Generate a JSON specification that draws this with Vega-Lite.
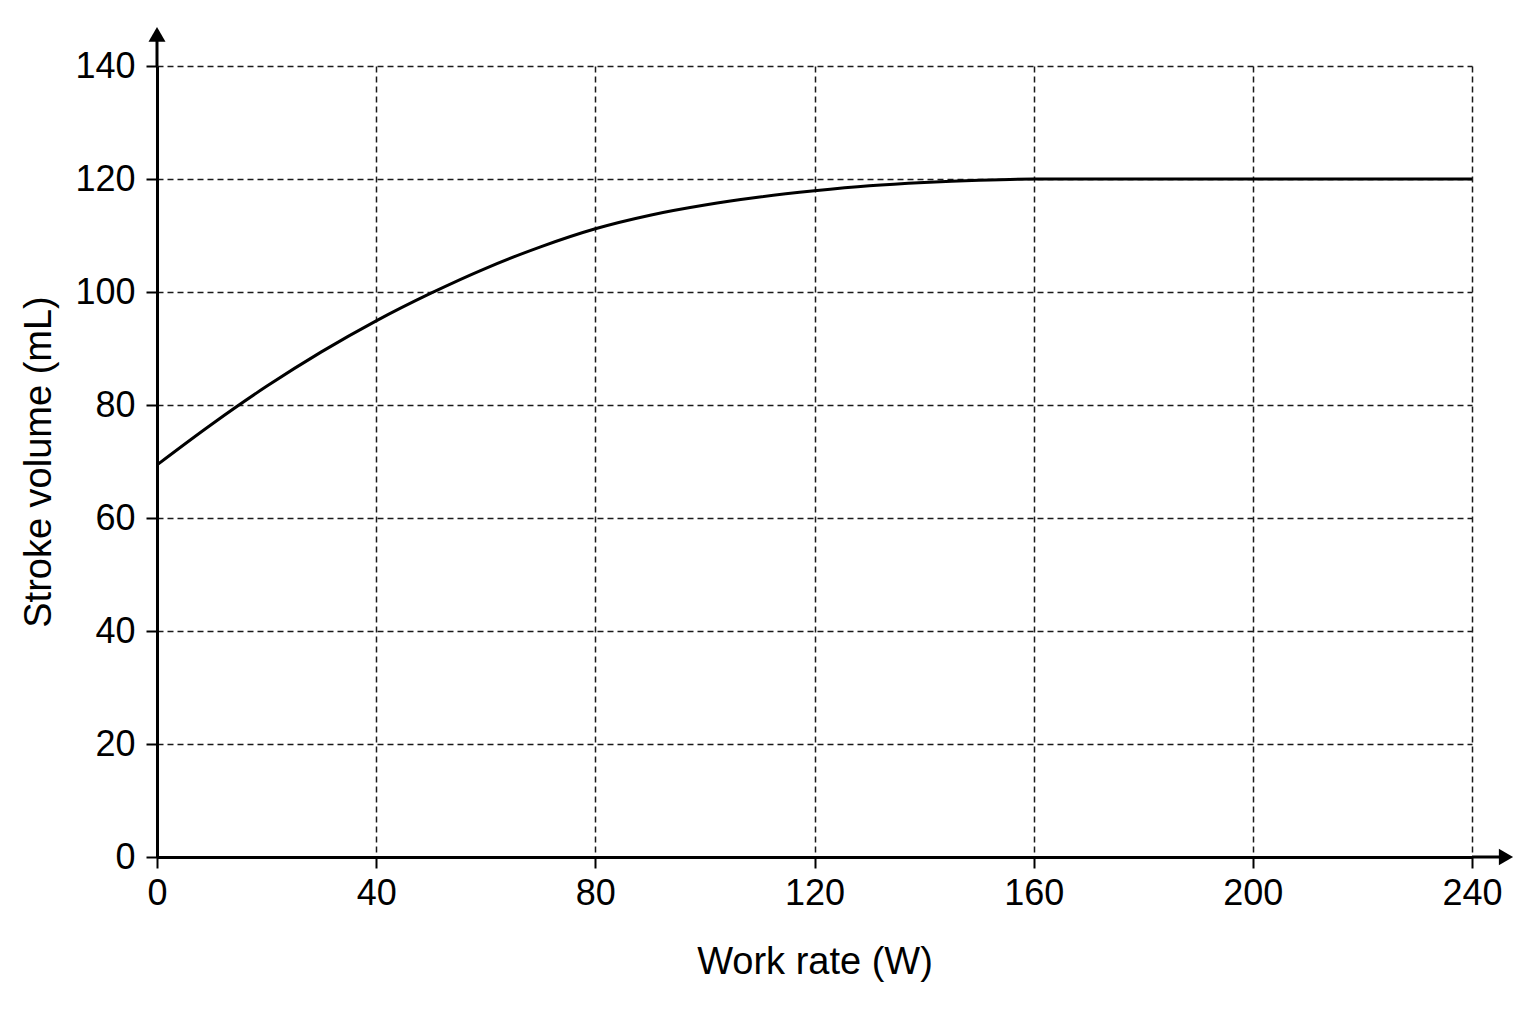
{
  "$schema": "https://vega.github.io/schema/vega-lite/v6.json",
  "autosize": {"type": "none"},
  "padding": {"left": 157, "top": 66, "right": 64, "bottom": 167},
  "width": 1315,
  "height": 791,
  "background": "white",
  "config": {
    "view": {"stroke": null},
    "axis": {
      "domainColor": "black",
      "domainWidth": 3,
      "tickColor": "black",
      "tickWidth": 2,
      "tickSize": 11,
      "labelFont": "Liberation Sans",
      "labelFontSize": 36,
      "labelColor": "black",
      "titleFont": "Liberation Sans",
      "titleFontSize": 38,
      "titleFontWeight": "normal",
      "titleColor": "black",
      "gridColor": "#1a1a1a",
      "gridDash": [6, 4],
      "gridWidth": 1.5
    }
  },
  "layer": [
    {
      "data": {
        "values": [
          {"work": 0, "sv": 69.4},
          {"work": 10, "sv": 76.6},
          {"work": 20, "sv": 83.3},
          {"work": 30, "sv": 89.4},
          {"work": 40, "sv": 94.9},
          {"work": 50, "sv": 99.8},
          {"work": 60, "sv": 104.2},
          {"work": 70, "sv": 108.0},
          {"work": 80, "sv": 111.2},
          {"work": 90, "sv": 113.6},
          {"work": 100, "sv": 115.4},
          {"work": 110, "sv": 116.8},
          {"work": 120, "sv": 117.9},
          {"work": 130, "sv": 118.8},
          {"work": 140, "sv": 119.4},
          {"work": 150, "sv": 119.8},
          {"work": 160, "sv": 120},
          {"work": 240, "sv": 120}
        ]
      },
      "mark": {"type": "line", "color": "black", "strokeWidth": 3, "interpolate": "monotone"},
      "encoding": {
        "x": {
          "field": "work",
          "type": "quantitative",
          "title": "Work rate (W)",
          "scale": {"domain": [0, 240], "nice": false},
          "axis": {"values": [0, 40, 80, 120, 160, 200, 240], "labelPadding": 8, "titlePadding": 32, "labelFlush": false}
        },
        "y": {
          "field": "sv",
          "type": "quantitative",
          "title": "Stroke volume (mL)",
          "scale": {"domain": [0, 140], "nice": false},
          "axis": {"values": [0, 20, 40, 60, 80, 100, 120, 140], "labelPadding": 11, "titlePadding": 16}
        }
      }
    },
    {
      "data": {"values": [{}]},
      "mark": {"type": "rule", "color": "black", "strokeWidth": 3},
      "encoding": {
        "x": {"datum": 0},
        "y": {"datum": 140},
        "y2": {"datum": 145}
      }
    },
    {
      "data": {"values": [{}]},
      "mark": {"type": "point", "shape": "triangle-up", "filled": true, "color": "black", "size": 290, "opacity": 1},
      "encoding": {
        "x": {"datum": 0},
        "y": {"datum": 145.6}
      }
    },
    {
      "data": {"values": [{}]},
      "mark": {"type": "rule", "color": "black", "strokeWidth": 3},
      "encoding": {
        "x": {"datum": 240},
        "x2": {"datum": 245},
        "y": {"datum": 0}
      }
    },
    {
      "data": {"values": [{}]},
      "mark": {"type": "point", "shape": "triangle-right", "filled": true, "color": "black", "size": 270, "opacity": 1},
      "encoding": {
        "x": {"datum": 246.2},
        "y": {"datum": 0}
      }
    }
  ]
}
